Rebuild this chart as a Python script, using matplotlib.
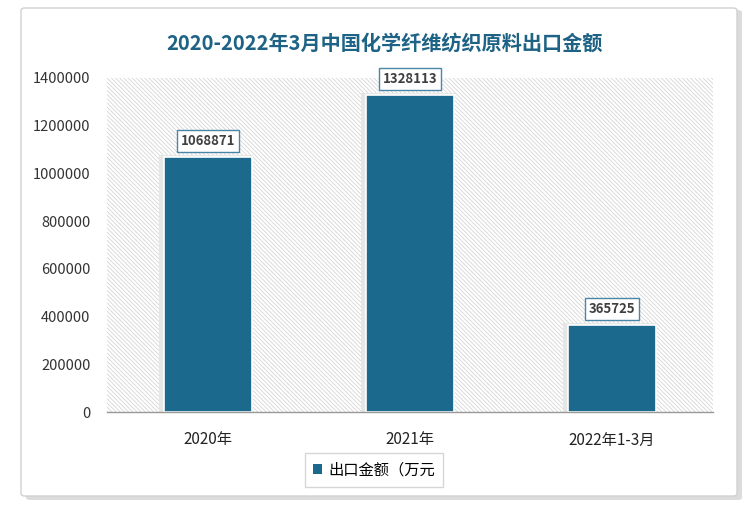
import matplotlib.pyplot as plt
from matplotlib.patches import FancyBboxPatch, Rectangle
import matplotlib as mpl

plt.rcParams['font.family'] = ['Noto Sans CJK SC', 'DejaVu Sans']
mpl.rcParams['hatch.linewidth'] = 0.6

categories = ['2020年', '2021年', '2022年1-3月']
values = [1068871, 1328113, 365725]
series_name = '出口金额（万元'
title = '2020-2022年3月中国化学纤维纺织原料出口金额'

bar_color = '#1b6a8e'

fig = plt.figure(figsize=(7.5, 5.14), dpi=100)

# outer frame with shadow
fig.patches.append(FancyBboxPatch((26 / 750, 1 - 500 / 514), 716 / 750, 490 / 514,
                                  boxstyle='round,pad=0,rounding_size=0.005',
                                  transform=fig.transFigure, facecolor='#dcdcdc',
                                  edgecolor='none', zorder=-3))
fig.patches.append(FancyBboxPatch((21 / 750, 1 - 496 / 514), 716 / 750, 488 / 514,
                                  boxstyle='round,pad=0,rounding_size=0.005',
                                  transform=fig.transFigure, facecolor='white',
                                  edgecolor='#d0d0d0', linewidth=1, zorder=-2))

ax = fig.add_axes([107 / 750, 1 - 412 / 514, 606 / 750, 334 / 514])
ax.set_facecolor('white')
ax.add_patch(Rectangle((0, 0), 1, 1, transform=ax.transAxes, facecolor='white',
                       edgecolor='#d6d6d6', linewidth=0, hatch='\\' * 8, zorder=0))

x = range(len(categories))
# soft bar shadows
ax.bar([i - 0.01 for i in x], [v + 7000 for v in values], width=0.465,
       color='#e6e6e6', zorder=1)
ax.bar(x, values, width=0.44, color=bar_color, edgecolor='white', linewidth=1.2, zorder=2)

for i, v in zip(x, values):
    ax.annotate(str(v), (i, v), xytext=(0, 11.5), textcoords='offset points',
                ha='center', va='center', fontsize=9.5, fontweight='bold', color='#404040',
                bbox=dict(boxstyle='square,pad=0.3', facecolor='white',
                          edgecolor='#4a86a8', linewidth=1), zorder=3)

ax.set_xlim(-0.5, 2.5)
ax.set_ylim(0, 1400000)
ax.set_yticks(range(0, 1400001, 200000))
ax.set_yticklabels([str(t) for t in range(0, 1400001, 200000)], fontsize=10.5, color='#333333')
ax.set_xticks(list(x))
ax.set_xticklabels(categories, fontsize=11, color='#222222')
ax.tick_params(axis='both', length=0)
ax.tick_params(axis='x', pad=14)
ax.tick_params(axis='y', pad=12)
for s in ['top', 'right', 'left']:
    ax.spines[s].set_visible(False)
ax.spines['bottom'].set_color('#999999')
ax.spines['bottom'].set_linewidth(1)

fig.text(384 / 750, 1 - 43 / 514, title, ha='center', va='center', fontsize=14.5,
         fontweight='bold', color='#1e6285')

leg = fig.legend([Rectangle((0, 0), 1, 1, facecolor=bar_color)], [series_name],
                 loc='center', bbox_to_anchor=(374 / 750, 1 - 470 / 514),
                 fontsize=11, handlelength=0.6, handleheight=0.6, handletextpad=0.4,
                 frameon=True, fancybox=False, edgecolor='#cccccc', borderpad=0.55,
                 borderaxespad=0)
leg.get_frame().set_linewidth(1)

fig.savefig('out.png', dpi=100)
